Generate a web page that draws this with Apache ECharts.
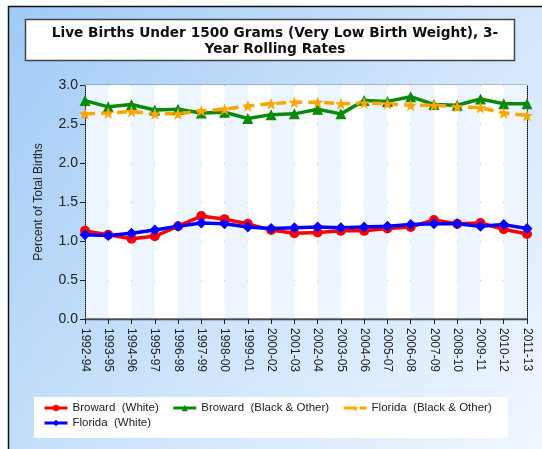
<!DOCTYPE html>
<html>
<head>
<meta charset="utf-8">
<script src="https://cdn.jsdelivr.net/npm/echarts@6/dist/echarts.min.js"></script>
<style>
  html, body { margin: 0; padding: 0; background: #fff; }
  #chart { width: 542px; height: 449px; }
</style>
</head>
<body>
<div id="chart"></div>
<script>
// periods on the x axis
var periods = ['1992-94', '1993-95', '1994-96', '1995-97', '1996-98', '1997-99', '1998-00',
  '1999-01', '2000-02', '2001-03', '2002-04', '2003-05', '2004-06', '2005-07', '2006-08',
  '2007-09', '2008-10', '2009-11', '2010-12', '2011-13'];

// percent of total births
var browardWhite = [1.13, 1.08, 1.03, 1.06, 1.19, 1.32, 1.28, 1.22, 1.14, 1.10,
  1.11, 1.13, 1.13, 1.16, 1.18, 1.27, 1.22, 1.23, 1.15, 1.09];
var browardBlack = [2.80, 2.72, 2.75, 2.68, 2.69, 2.64, 2.65, 2.57, 2.62, 2.63,
  2.69, 2.63, 2.80, 2.79, 2.85, 2.75, 2.74, 2.82, 2.76, 2.76];
var floridaBlack = [2.63, 2.64, 2.66, 2.63, 2.63, 2.67, 2.69, 2.73, 2.76, 2.78,
  2.78, 2.76, 2.77, 2.76, 2.74, 2.74, 2.72, 2.71, 2.64, 2.61];
var floridaWhite = [1.08, 1.07, 1.10, 1.14, 1.19, 1.23, 1.22, 1.18, 1.16, 1.17,
  1.18, 1.17, 1.18, 1.19, 1.21, 1.22, 1.22, 1.19, 1.21, 1.16];

var seriesNames = ['Broward  (White)', 'Broward  (Black & Other)', 'Florida  (Black & Other)', 'Florida  (White)'];

var myChart = echarts.init(document.getElementById('chart'));

function lineSeries(name, data, color, symbol, size, dashed) {
  return {
    name: name,
    type: 'line',
    data: data,
    symbol: symbol,
    symbolSize: size,
    showAllSymbol: true,
    lineStyle: { color: color, width: 3.5, type: dashed ? [10, 6] : 'solid' },
    itemStyle: { color: color },
    emphasis: { disabled: true }
  };
}

var legendText = { fontFamily: 'Liberation Sans', fontSize: 11.5, color: '#222' };

var option = {
  animation: false,
  backgroundColor: new echarts.graphic.LinearGradient(0, 0, 1, 1, [
    { offset: 0, color: '#9fcaf6' },
    { offset: 0.55, color: '#cfe5fb' },
    { offset: 1, color: '#f1f7ff' }
  ]),
  graphic: [
    { // white margin + frame
      type: 'rect', z: -10, silent: true,
      shape: { x: 0, y: 0, width: 542, height: 6 },
      style: { fill: '#ffffff' }
    },
    {
      type: 'rect', z: -10, silent: true,
      shape: { x: 0, y: 0, width: 8, height: 449 },
      style: { fill: '#ffffff' }
    },
    {
      type: 'rect', z: -9, silent: true,
      shape: { x: 8.5, y: 6.5, width: 600, height: 500 },
      style: { fill: null, stroke: '#111', lineWidth: 1.5 }
    },
    { // title box
      type: 'rect', z: -5, silent: true,
      shape: { x: 25.5, y: 19.5, width: 489, height: 41 },
      style: { fill: '#ffffff', stroke: '#444', lineWidth: 1.5 }
    },
    { // legend box
      type: 'rect', z: -5, silent: true,
      shape: { x: 34, y: 397, width: 474, height: 41 },
      style: { fill: '#ffffff' }
    }
  ],
  title: {
    text: 'Live Births Under 1500 Grams (Very Low Birth Weight), 3-\nYear Rolling Rates',
    left: 270,
    top: 20,
    textAlign: 'center',
    textStyle: {
      fontFamily: 'DejaVu Sans',
      fontWeight: 'bold',
      fontSize: 13.7,
      lineHeight: 16,
      color: '#111'
    }
  },
  legend: [
    {
      left: 43,
      top: 402,
      padding: 0,
      itemGap: 13,
      itemWidth: 23,
      itemHeight: 8,
      lineStyle: { width: 3 },
      textStyle: legendText,
      data: seriesNames.slice(0, 3)
    },
    {
      left: 43,
      top: 417,
      padding: 0,
      itemWidth: 23,
      itemHeight: 8,
      lineStyle: { width: 3 },
      textStyle: legendText,
      data: seriesNames.slice(3)
    }
  ],
  grid: {
    left: 85,
    right: 15,
    top: 85,
    bottom: 130,
    show: true,
    backgroundColor: '#ffffff',
    borderWidth: 0
  },
  xAxis: {
    type: 'category',
    data: periods,
    boundaryGap: false,
    axisLine: { lineStyle: { color: '#555', width: 1.5 } },
    axisTick: { show: true, length: 5, lineStyle: { color: '#222' } },
    axisLabel: {
      rotate: -90,
      interval: 0,
      margin: 9,
      fontFamily: 'Liberation Sans',
      fontSize: 12,
      color: '#222'
    },
    splitLine: { show: false },
    splitArea: { show: true, areaStyle: { color: ['#edf6fe', '#ffffff'] } }
  },
  yAxis: [
    {
      type: 'value',
      min: 0,
      max: 3,
      interval: 0.5,
      name: 'Percent of Total Births',
      nameLocation: 'middle',
      nameGap: 40,
      nameTextStyle: { fontFamily: 'Liberation Sans', fontSize: 12, color: '#222' },
      axisLine: { show: true, lineStyle: { color: '#111', type: [1, 1], width: 1 } },
      axisTick: { show: true, length: 5, lineStyle: { color: '#222' } },
      axisLabel: {
        fontFamily: 'Liberation Sans',
        fontSize: 14,
        color: '#222',
        margin: 7,
        formatter: function (v) { return v.toFixed(1); }
      },
      splitLine: { lineStyle: { color: '#3a3a3a', width: 1.3 } }
    },
    {
      type: 'value',
      position: 'right',
      min: 0,
      max: 3,
      interval: 0.5,
      axisLine: { show: true, lineStyle: { color: '#111', type: [1, 1], width: 1 } },
      axisTick: { show: false },
      axisLabel: { show: false },
      splitLine: { show: false }
    }
  ],
  series: [
    lineSeries(seriesNames[0], browardWhite, '#ff0000', 'circle', 10, false),
    lineSeries(seriesNames[1], browardBlack, '#0a8a0a', 'triangle', 11, false),
    lineSeries(seriesNames[2], floridaBlack, '#ffa500', 'path://M0,-10 L2.4,-3.2 L9.5,-3.1 L3.8,1.2 L5.9,8.1 L0,4 L-5.9,8.1 L-3.8,1.2 L-9.5,-3.1 L-2.4,-3.2 Z', 12, true),
    lineSeries(seriesNames[3], floridaWhite, '#0000ff', 'diamond', 11, false)
  ]
};
myChart.setOption(option);
</script>
</body>
</html>
